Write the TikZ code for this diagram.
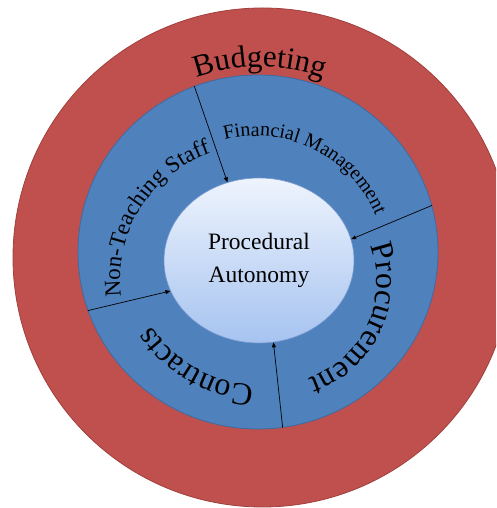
\documentclass[tikz,border=0pt]{standalone}
\usepackage{fontspec}
\setmainfont{Liberation Serif}
\usetikzlibrary{arrows.meta,decorations.text,shapes.geometric}
\definecolor{redfill}{HTML}{C0504D}
\definecolor{redline}{HTML}{A0403D}
\definecolor{bluefill}{HTML}{4F81BD}
\definecolor{blueline}{HTML}{3E6AA0}
\definecolor{coretop}{HTML}{EEF4FD}
\definecolor{corebot}{HTML}{A6C3F0}
\definecolor{coreline}{HTML}{7A9BD0}
\newcommand\fbud{\fontsize{31}{34}\selectfont}
\newcommand\ffin{\fontsize{20}{22}\selectfont}
\newcommand\fnon{\fontsize{23}{26}\selectfont}
\newcommand\fpro{\fontsize{32}{35}\selectfont}
\newcommand\fcon{\fontsize{32}{35}\selectfont}
\newcommand\fcore{\fontsize{23.5}{33}\selectfont}
\begin{document}
\begin{tikzpicture}[x=1pt,y=1pt,
  conn/.style={-{Triangle[length=5pt,width=4pt]}, line width=0.7pt, black},
  ringtext/.style={decorate, decoration={text along path, text align=center}}]
\useasboundingbox (0,0) rectangle (496,508);
\clip (0,0) rectangle (496,508);
\node[circle, draw=redline, fill=redfill, line width=0.8pt, minimum size=499pt, inner sep=0pt] (budget) at (262.5,250.5) {};
\node[ellipse, draw=blueline, fill=bluefill, line width=0.8pt, minimum width=360pt, minimum height=354pt, inner sep=0pt] (ring) at (258,256) {};
\node[ellipse, draw=coreline, line width=0.6pt, top color=coretop, bottom color=corebot, minimum width=190pt, minimum height=165pt, inner sep=0pt, font=\fcore, align=center] (core) at (259,247.5) {Procedural\\Autonomy};
% connectors
\draw[conn] (ring.111) -- (core.112);
\draw[conn] (ring.15.5) -- (core.13.6);
\draw[conn] (ring.199.3) -- (core.199.8);
\draw[conn] (ring.-82.3) -- (core.-80);
% curved labels
\path[ringtext, decoration={text={|\fbud|Budgeting}}] (260,251) ++(120:190pt) arc[start angle=120, end angle=60, radius=190pt];
\path[ringtext, decoration={text={|\ffin|Financial Management}}] (256,242) ++(113.5:130pt) arc[start angle=113.5, end angle=13.5, radius=130pt];
\path[ringtext, decoration={text={|\fnon|Non-Teaching Staff}}] (254,228) ++(198:134pt) arc[start angle=198, end angle=98, radius=134pt];
\path[ringtext, decoration={text={|\fpro|Procurement}}] (275,226) ++(35:102pt) arc[start angle=35, end angle=-85, radius=102pt];
\path[ringtext, decoration={text={|\fcon|Contracts}}] (259,250) ++(-80:127pt) arc[start angle=-80, end angle=-160, radius=127pt];
\end{tikzpicture}
\end{document}
